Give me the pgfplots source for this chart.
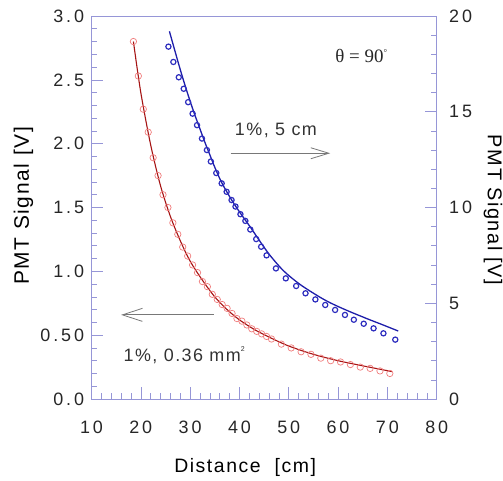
\documentclass[border=0pt]{standalone}
\usepackage{fontspec}
\setmainfont{Liberation Sans}
\usepackage{pgfplots}
\pgfplotsset{compat=1.18}
\usetikzlibrary{arrows.meta}
\newfontfamily\tickfont[LetterSpace=16]{Liberation Sans}
\newfontfamily\labfont[LetterSpace=8]{Liberation Sans}
\newfontfamily\seriffont{Liberation Serif}
\definecolor{frame}{RGB}{150,150,215}
\definecolor{redpt}{RGB}{240,125,125}
\definecolor{redln}{RGB}{165,20,20}
\definecolor{bluept}{RGB}{45,45,190}
\definecolor{blueln}{RGB}{30,30,170}
\definecolor{arrowgray}{RGB}{120,120,120}
\begin{document}
\begin{tikzpicture}
\pgfplotsset{
  common/.style={
    scale only axis, width=345.2bp, height=383bp,
    xmin=10, xmax=80,
    axis line style={frame, line width=0.7bp},
    every tick/.style={frame, line width=0.6bp},
    tick align=inside,
    major tick length=12bp, minor tick length=6bp,
    /pgf/number format/assume math mode=true,
    tick label style={font=\fontsize{18}{20}\tickfont, text=black!85},
  }
}
\begin{axis}[common,
  ymin=0, ymax=3,
  xtick={10,20,...,80}, minor x tick num=4, xtick pos=left,
  ytick={0,0.5,1,1.5,2,2.5,3}, yticklabels={0.0,0.50,1.0,1.5,2.0,2.5,3.0},
  minor y tick num=4, ytick pos=left,
  xticklabel style={anchor=center, yshift=-28bp},
  yticklabel style={anchor=east, xshift=-4bp},
  xlabel={Distance\ \ [cm]}, ylabel={PMT Signal [V]},
  every axis x label/.style={at={(axis description cs:0.445,-0.1775)}, anchor=center, font=\fontsize{19.5}{22}\labfont},
  every axis y label/.style={at={(axis description cs:-0.197,0.504)}, anchor=center, rotate=90, font=\fontsize{21}{24}\labfont},
]
% red fitted line
\addplot[redln, line width=1.1bp, smooth, no markers] coordinates {
(18.5,2.80) (20,2.40) (22,1.99) (24,1.67) (26,1.43) (28,1.24) (30,1.08)
(32.5,0.93) (35,0.80) (37.5,0.70) (40,0.62) (43,0.545) (46,0.485)
(50,0.415) (55,0.35) (60,0.30) (65,0.26) (70.9,0.215)};
% red data
\addplot[redpt, only marks, mark=o, mark size=3.2bp, line width=0.7bp] coordinates {
(18.5,2.80) (19.5,2.53) (20.5,2.27) (21.5,2.09) (22.5,1.89) (23.5,1.75)
(24.5,1.60) (25.5,1.50) (26.5,1.38) (27.5,1.29) (28.5,1.19) (29.5,1.12)
(30.5,1.05) (31.5,0.99) (32.5,0.92) (33.5,0.88) (34.5,0.82) (35.5,0.78)
(36.5,0.74) (37.5,0.71) (38.5,0.67) (39.5,0.63) (40.5,0.61) (41.5,0.58)
(42.5,0.55) (43.5,0.53) (44.5,0.51) (45.5,0.49) (46.5,0.47) (48.5,0.43)
(50.5,0.40) (52.5,0.37) (54.5,0.35) (56.5,0.32) (58.5,0.30) (60.5,0.29)
(62.5,0.27) (64.5,0.25) (66.5,0.24) (68.5,0.22) (70.5,0.20)};
% annotations
\node[font=\fontsize{18}{20}\labfont, text=black!80, anchor=center] at (axis cs:47.4,2.10) {1\%, 5 cm};
\draw[arrowgray, line width=0.8bp, -{Straight Barb[length=18bp,width=11bp]}] (axis cs:38.2,1.925) -- (axis cs:58.4,1.925);
\draw[arrowgray, line width=0.8bp, -{Straight Barb[length=20bp,width=13bp]}] (axis cs:34.8,0.659) -- (axis cs:16.0,0.659);
\node[font=\fontsize{18}{20}\labfont, text=black!80, anchor=center] at (axis cs:28.8,0.345) {1\%, 0.36 mm\raisebox{1.1ex}{\fontsize{7}{7}\selectfont 2}};
\node[font=\fontsize{19}{22}\seriffont, text=black!85, anchor=center] at (axis cs:64.7,2.686) {θ = 90\raisebox{0.9ex}{\fontsize{9}{9}\selectfont °}};
\end{axis}
\begin{axis}[common,
  axis x line=none, axis y line*=right,
  ymin=0, ymax=20,
  ytick={0,5,10,15,20}, minor y tick num=4,
  yticklabel style={anchor=west, xshift=9bp},
  ylabel={PMT Signal [V]},
  every axis y label/.style={at={(axis description cs:1.163,0.493)}, anchor=center, rotate=-90, font=\fontsize{20}{24}\labfont},
]
% blue fitted line
\addplot[blueln, line width=1.3bp, smooth, no markers] coordinates {
(25.8,19.2) (27,18.1) (28,17.2) (29,16.35) (30,15.55) (31,14.8) (32,14.1)
(33,13.4) (34,12.75) (35,12.1) (36.4,11.3) (38.4,10.4) (40.2,9.7)
(42.2,8.98) (44.2,8.22) (46.2,7.5) (49,6.68) (52.3,5.98) (56.3,5.32)
(59,4.95) (62.4,4.56) (66.5,4.13) (69,3.88) (72.2,3.55)};
% blue data
\addplot[bluept, only marks, mark=o, mark size=2.6bp, line width=1.2bp] coordinates {
(25.6,18.4) (26.6,17.6) (27.7,16.8) (28.7,16.2) (29.6,15.5) (30.5,14.9)
(31.4,14.3) (32.4,13.6) (33.4,13.0) (34.2,12.4) (35.3,11.8) (36.4,11.26)
(37.4,10.82) (38.4,10.39) (39.2,10.05) (40.2,9.65) (41.2,9.30) (42.2,8.85)
(43.4,8.35) (44.4,7.95) (45.5,7.50) (47.4,6.82) (49.4,6.30) (51.5,5.90)
(53.4,5.52) (55.4,5.20) (57.4,4.91) (59.4,4.65) (61.4,4.39) (63.2,4.14)
(65.2,3.93) (67.2,3.69) (69.2,3.43) (71.6,3.10)};
\end{axis}
\pgfresetboundingbox
\path (-91.5bp,-82bp) rectangle (411.5bp,399bp);
\end{tikzpicture}
\end{document}
